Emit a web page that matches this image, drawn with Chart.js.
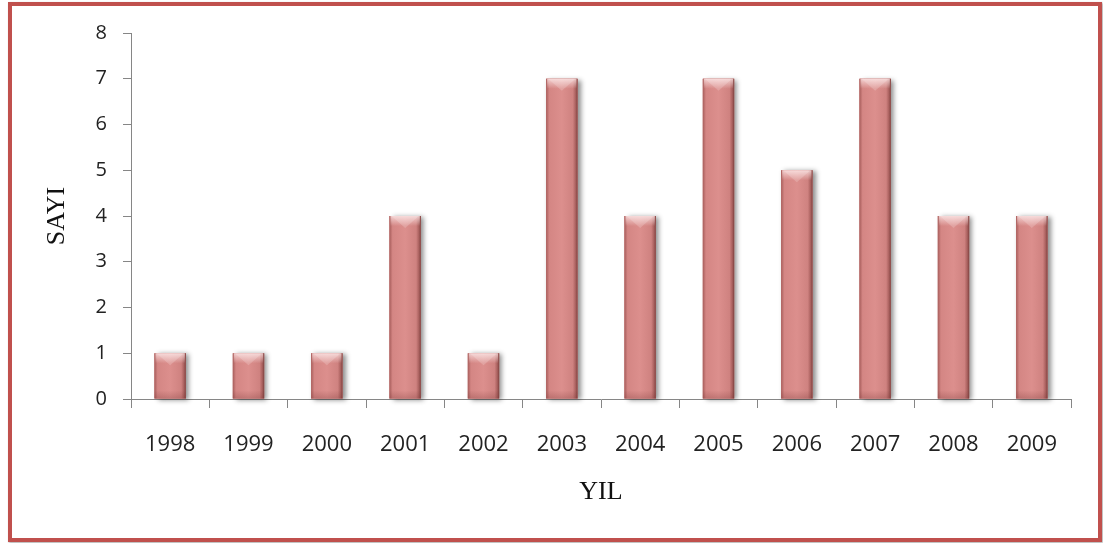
<html>
<head>
<script src="https://cdn.jsdelivr.net/npm/chart.js@4.4.0/dist/chart.umd.min.js"></script>
<style>
  body { margin: 0; background: #fff; }
  #frame {
    position: absolute; left: 8px; top: 2px; width: 1094px; height: 540px;
    box-sizing: border-box; border: 4px solid #c0504d;
    box-shadow: 1px 1px 2px rgba(0,0,0,0.35);
  }
  #myChart { position: absolute; left: 0; top: 0; }
</style>
</head>
<body>
<div id="frame"></div>
<canvas id="myChart" width="1103" height="543"></canvas>
<script>
  var years = ['1998', '1999', '2000', '2001', '2002', '2003', '2004', '2005', '2006', '2007', '2008', '2009'];
  var counts = [1, 1, 1, 4, 1, 7, 4, 7, 5, 7, 4, 4];
  var yTicks = [0, 1, 2, 3, 4, 5, 6, 7, 8];

  var axisGray = '#868686';

  // soft shadow under each bar, drawn before the bars themselves
  var barShadow = {
    id: 'barShadow',
    beforeDatasetsDraw: function (chart) {
      var ctx = chart.ctx;
      ctx.save();
      chart.getDatasetMeta(0).data.forEach(function (bar) {
        var p = bar.getProps(['x', 'y', 'base', 'width'], true);
        ctx.shadowColor = 'rgba(0,0,0,0.45)';
        ctx.shadowBlur = 5;
        ctx.shadowOffsetX = 3;
        ctx.shadowOffsetY = 1;
        ctx.fillStyle = '#b06a68';
        ctx.fillRect(p.x - p.width / 2, p.y, p.width, p.base - p.y);
      });
      ctx.restore();
    }
  };

  // bevel shading over each bar
  var barBevel = {
    id: 'barBevel',
    afterDatasetsDraw: function (chart) {
      var ctx = chart.ctx;
      ctx.save();
      chart.getDatasetMeta(0).data.forEach(function (bar) {
        var p = bar.getProps(['x', 'y', 'base', 'width'], true);
        var l = p.x - p.width / 2, r = p.x + p.width / 2, t = p.y, b = p.base;
        var h = b - t;

        var g = ctx.createLinearGradient(l, 0, r, 0);
        g.addColorStop(0, '#a85e5c');
        g.addColorStop(0.1, '#d48684');
        g.addColorStop(0.5, '#dc8f8d');
        g.addColorStop(0.85, '#cf8280');
        g.addColorStop(0.94, '#a9605e');
        g.addColorStop(1, '#7e4240');
        ctx.fillStyle = g;
        ctx.fillRect(l, t, p.width, h);

        var bev = Math.min(10, h / 2);
        var tg = ctx.createLinearGradient(0, t, 0, t + bev);
        tg.addColorStop(0, 'rgba(255,235,235,0.75)');
        tg.addColorStop(1, 'rgba(255,235,235,0)');
        ctx.fillStyle = tg;
        ctx.fillRect(l + 1, t, p.width - 2, bev);

        // V shaped highlight at the top
        ctx.beginPath();
        ctx.moveTo(l + 2, t);
        ctx.lineTo(r - 2, t);
        ctx.lineTo(p.x, t + bev * 1.2);
        ctx.closePath();
        ctx.fillStyle = 'rgba(255,255,255,0.18)';
        ctx.fill();

        var bg = ctx.createLinearGradient(0, b - 8, 0, b);
        bg.addColorStop(0, 'rgba(110,45,45,0)');
        bg.addColorStop(1, 'rgba(110,45,45,0.25)');
        ctx.fillStyle = bg;
        ctx.fillRect(l, b - 8, p.width, 8);
      });
      ctx.restore();
    }
  };

  var ctx = document.getElementById('myChart').getContext('2d');
  var myChart = new Chart(ctx, {
    type: 'bar',
    data: {
      labels: years,
      datasets: [{
        label: 'SAYI',
        data: counts,
        backgroundColor: '#d98a88',
        borderWidth: 0,
        barPercentage: 0.4,
        categoryPercentage: 1
      }]
    },
    options: {
      responsive: false,
      animation: false,
      layout: { padding: { left: 40, top: 33, right: 32, bottom: 30 } },
      plugins: {
        legend: { display: false },
        tooltip: { enabled: false }
      },
      scales: {
        x: {
          offset: true,
          grid: { offset: true, drawOnChartArea: false, tickLength: 9, color: axisGray },
          border: { color: axisGray },
          ticks: { padding: 24, color: '#222', font: { family: 'Open Sans', size: 22 } },
          title: {
            display: true, text: 'YIL', color: '#111',
            font: { family: 'Liberation Serif', size: 26 },
            padding: { top: 0, bottom: 5 }
          },
          afterFit: function (scale) { scale.height = 114; }
        },
        y: {
          min: 0,
          max: 8,
          afterBuildTicks: function (scale) {
            scale.ticks = yTicks.map(function (v) { return { value: v }; });
          },
          grid: { drawOnChartArea: false, tickLength: 8, color: axisGray },
          border: { color: axisGray },
          ticks: { padding: 16, color: '#222', font: { family: 'Open Sans', size: 20 } },
          title: {
            display: true, text: 'SAYI', color: '#111',
            font: { family: 'Liberation Serif', size: 26 },
            padding: { top: 2, bottom: 0 }
          },
          afterFit: function (scale) { scale.width = 91; }
        }
      }
    },
    plugins: [barShadow, barBevel]
  });
</script>
</body>
</html>
